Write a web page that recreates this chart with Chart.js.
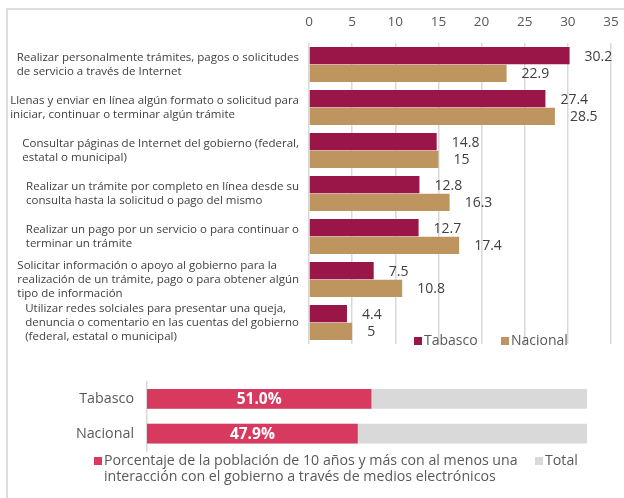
<!DOCTYPE html>
<html>
<head>
<meta charset="utf-8">
<script src="https://cdn.jsdelivr.net/npm/chart.js@4.4.1/dist/chart.umd.min.js"></script>
<style>
  html, body { margin: 0; padding: 0; background: #fff; }
  body { width: 624px; height: 498px; position: relative; overflow: hidden; }
  #frame { position: absolute; left: 6px; top: 8px; right: -10px; bottom: -10px;
           border-left: 2px solid #dedede; border-top: 2px solid #dedede; }
  #actividades { position: absolute; left: 0; top: 0; }
  #interaccion { position: absolute; left: 0; top: 360px; }
</style>
</head>
<body>
<div id="frame"></div>
<canvas id="actividades" width="624" height="360"></canvas>
<canvas id="interaccion" width="624" height="138"></canvas>
<script>
// Actividades realizadas por medios electrónicos (%)
const actividades = [
  ['Realizar personalmente trámites, pagos o solicitudes', 'de servicio a través de Internet'],
  ['Llenas y enviar en línea algún formato o solicitud para', 'iniciar, continuar o terminar algún trámite'],
  ['Consultar páginas de Internet del gobierno (federal,', 'estatal o municipal)'],
  ['Realizar un trámite por completo en línea desde su', 'consulta hasta la solicitud o pago del mismo'],
  ['Realizar un pago por un servicio o para continuar o', 'terminar un trámite'],
  ['Solicitar información o apoyo al gobierno para la', 'realización de un trámite, pago o para obtener algún', 'tipo de información'],
  ['Utilizar redes solciales para presentar una queja,', 'denuncia o comentario en las cuentas del gobierno', '(federal, estatal o municipal)']
];
const tabasco = [30.2, 27.4, 14.8, 12.8, 12.7, 7.5, 4.4];
const nacional = [22.9, 28.5, 15, 16.3, 17.4, 10.8, 5];
const escalaMax = 35;
const escalaPaso = 5;

// Población con al menos una interacción por medios electrónicos (%)
const entidades = ['Tabasco', 'Nacional'];
const conInteraccion = [51.0, 47.9];
const totalPoblacion = [100, 100];
const etiquetaInteraccion = ['Porcentaje de la población de 10 años y más con al menos una',
                             'interacción con el gobierno a través de medios electrónicos'];

const FONT = '"Open Sans", "DejaVu Sans", sans-serif';
const GRIS_TEXTO = '#595959';
const GRIS_OSCURO = '#404040';
const VINO = '#9b1648';
const ARENA = '#bf955f';
const ROSA = '#d83a5f';
const GRIS_CLARO = '#d9d9d9';

Chart.defaults.font.family = FONT;

// Wrapped category labels: block right-aligned next to the plot, lines left-aligned
const categoryLabels = {
  id: 'categoryLabels',
  afterDraw(chart) {
    const ctx = chart.ctx;
    const y = chart.scales.y;
    const lh = 14;
    ctx.save();
    ctx.font = '11.5px ' + FONT;
    ctx.fillStyle = GRIS_OSCURO;
    ctx.textBaseline = 'middle';
    ctx.textAlign = 'left';
    chart.data.labels.forEach((lines, i) => {
      const cy = y.getPixelForValue(i);
      const w = Math.max(...lines.map(l => ctx.measureText(l).width));
      const x0 = 299 - w;
      lines.forEach((l, k) => {
        ctx.fillText(l, x0, cy + (k - (lines.length - 1) / 2) * lh);
      });
    });
    ctx.restore();
  }
};

// Values printed just past the end of each bar
const valueLabels = {
  id: 'valueLabels',
  afterDatasetsDraw(chart) {
    const ctx = chart.ctx;
    ctx.save();
    ctx.font = '14px ' + FONT;
    ctx.fillStyle = GRIS_OSCURO;
    ctx.textBaseline = 'middle';
    ctx.textAlign = 'left';
    chart.data.datasets.forEach((ds, di) => {
      chart.getDatasetMeta(di).data.forEach((bar, i) => {
        ctx.fillText(String(ds.data[i]), bar.x + 15, bar.y + 1);
      });
    });
    ctx.restore();
  }
};

// Series key drawn over the lower right of the plot
const seriesKey = {
  id: 'seriesKey',
  afterDraw(chart) {
    const ctx = chart.ctx;
    const pos = [414, 501];
    const cy = 341;
    ctx.save();
    ctx.font = '14px ' + FONT;
    ctx.textBaseline = 'middle';
    ctx.textAlign = 'left';
    chart.data.datasets.forEach((ds, i) => {
      ctx.fillStyle = ds.backgroundColor;
      ctx.fillRect(pos[i], cy - 4, 8, 8);
      ctx.fillStyle = GRIS_TEXTO;
      ctx.fillText(ds.label, pos[i] + 10, cy);
    });
    ctx.restore();
  }
};

new Chart(document.getElementById('actividades'), {
  type: 'bar',
  data: {
    labels: actividades,
    datasets: [
      { label: 'Tabasco', data: tabasco, backgroundColor: VINO },
      { label: 'Nacional', data: nacional, backgroundColor: ARENA }
    ]
  },
  options: {
    indexAxis: 'y',
    responsive: false,
    animation: false,
    layout: { padding: { left: 0, right: 13, top: 0, bottom: 16 } },
    datasets: { bar: { categoryPercentage: 0.82, barPercentage: 0.98 } },
    scales: {
      x: {
        position: 'top',
        min: 0,
        max: escalaMax,
        ticks: { stepSize: escalaPaso, color: GRIS_TEXTO, font: { size: 13.5 }, padding: 13 },
        grid: { color: GRIS_CLARO, lineWidth: 1.5, drawTicks: false },
        border: { display: false },
        afterFit(s) { s.height = 43; s.paddingLeft = 0; s.paddingRight = 0; }
      },
      y: {
        ticks: { display: false },
        grid: { display: false },
        border: { display: false },
        afterFit(s) { s.width = 309; }
      }
    },
    plugins: { legend: { display: false }, tooltip: { enabled: false } }
  },
  plugins: [categoryLabels, valueLabels, seriesKey]
});

// Percentage printed in the middle of the filled part
const insideLabels = {
  id: 'insideLabels',
  afterDatasetsDraw(chart) {
    const ctx = chart.ctx;
    const ds = chart.data.datasets[0];
    ctx.save();
    ctx.font = 'bold 15.5px ' + FONT;
    ctx.fillStyle = '#ffffff';
    ctx.textBaseline = 'middle';
    ctx.textAlign = 'center';
    chart.getDatasetMeta(0).data.forEach((bar, i) => {
      ctx.fillText(ds.data[i].toFixed(1) + '%', (bar.base + bar.x) / 2, bar.y + 1);
    });
    ctx.restore();
  }
};

// Key below the bars
const bottomKey = {
  id: 'bottomKey',
  afterDraw(chart) {
    const ctx = chart.ctx;
    const ds = chart.data.datasets;
    ctx.save();
    ctx.font = '14.2px ' + FONT;
    ctx.textBaseline = 'middle';
    ctx.textAlign = 'left';
    const y1 = 101, lh = 16;
    ctx.fillStyle = ds[0].backgroundColor;
    ctx.fillRect(94, y1 - 4, 8, 8);
    ctx.fillStyle = GRIS_TEXTO;
    ds[0].label.forEach((l, k) => ctx.fillText(l, 104, y1 + k * lh));
    ctx.fillStyle = ds[1].backgroundColor;
    ctx.fillRect(535, y1 - 4, 8, 8);
    ctx.fillStyle = GRIS_TEXTO;
    ctx.fillText(ds[1].label, 545, y1);
    ctx.restore();
  }
};

new Chart(document.getElementById('interaccion'), {
  type: 'bar',
  data: {
    labels: entidades,
    datasets: [
      { label: etiquetaInteraccion, data: conInteraccion, backgroundColor: ROSA, order: 0, grouped: false },
      { label: 'Total', data: totalPoblacion, backgroundColor: GRIS_CLARO, order: 1, grouped: false }
    ]
  },
  options: {
    indexAxis: 'y',
    responsive: false,
    animation: false,
    layout: { padding: { left: 0, right: 37, top: 10, bottom: 47 } },
    datasets: { bar: { categoryPercentage: 1, barPercentage: 0.57 } },
    scales: {
      x: { display: false, min: 0, max: 100 },
      y: {
        ticks: { color: GRIS_TEXTO, font: { size: 14.3 }, padding: 13 },
        grid: { display: false, drawTicks: false },
        border: { color: GRIS_CLARO, width: 1.5 },
        afterFit(s) { s.width = 147; }
      }
    },
    plugins: { legend: { display: false }, tooltip: { enabled: false } }
  },
  plugins: [insideLabels, bottomKey]
});
</script>
</body>
</html>
